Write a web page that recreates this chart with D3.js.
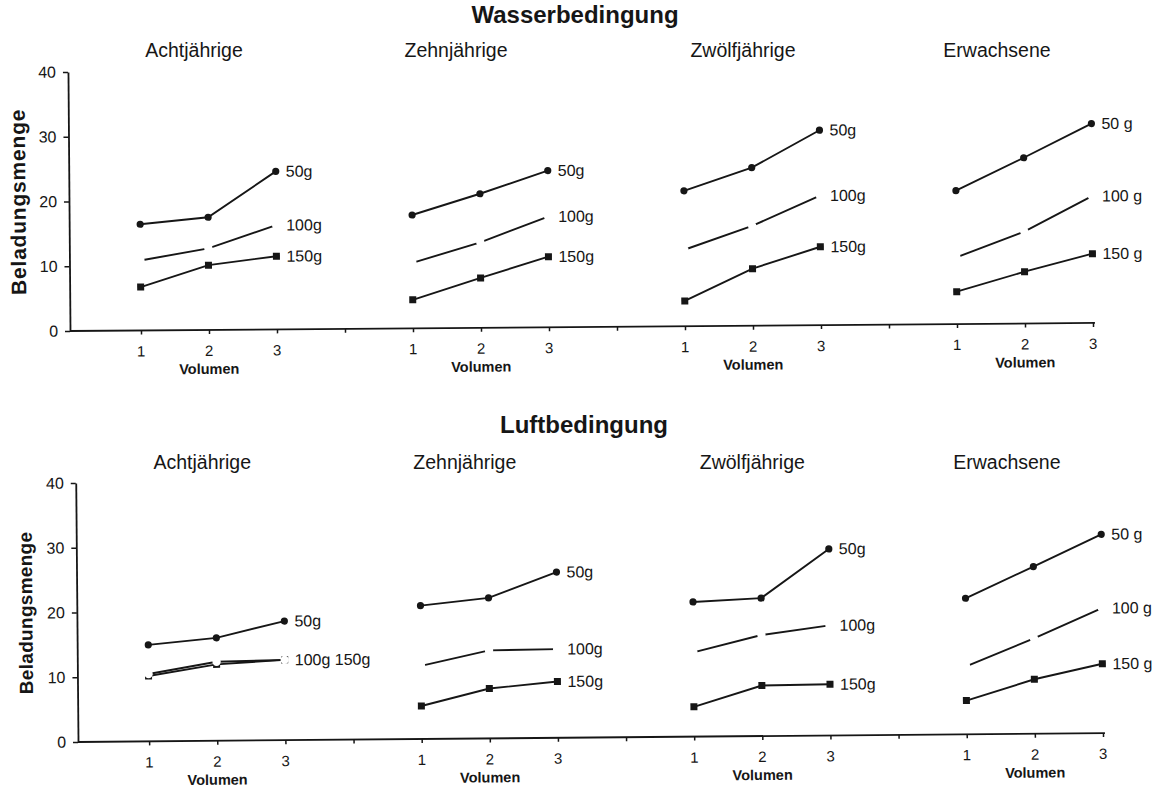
<!DOCTYPE html>
<html>
<head>
<meta charset="utf-8">
<script src="https://cdn.jsdelivr.net/npm/d3@7"></script>
<style>
  body { margin: 0; background: #fff; }
  svg { display: block; font-family: "Liberation Sans", Arial, sans-serif; }
</style>
</head>
<body>
<script>
// values: Beladungsmenge for Volumen 1..3, one row per age group
const ageGroups = ["Achtjährige", "Zehnjährige", "Zwölfjährige", "Erwachsene"];
const volumes = ["1", "2", "3"];
const yTicks = [0, 10, 20, 30, 40];

const wasser50g  = [[16.4, 17.4, 24.4], [17.5, 20.7, 24.2], [20.9, 24.4, 30.1], [20.6, 25.6, 30.8]];
const wasser100g = [[10.8, 12.6, 16.1], [10.1, 13.2, 17.1], [11.8, 15.4, 20.0], [10.3, 14.2, 19.6]];
const wasser150g = [[6.7, 10.0, 11.3], [4.4, 7.7, 10.9], [3.9, 8.8, 12.1], [5.0, 8.0, 10.7]];

const luft50g  = [[14.9, 15.9, 18.4], [20.6, 21.7, 25.6], [20.8, 21.3, 28.8], [21.0, 25.8, 30.7]];
const luft100g = [[10.4, 12.2, 12.4], [11.3, 13.6, 13.7], [13.0, 15.6, 17.0], [10.5, 14.7, 19.3]];
const luft150g = [[10.1, 11.8, 12.4], [5.1, 7.7, 8.7], [4.6, 7.8, 7.9], [5.2, 8.4, 10.7]];

const wasserLabels = [["50g", "100g", "150g"], ["50g", "100g", "150g"], ["50g", "100g", "150g"], ["50 g", "100 g", "150 g"]];
const luftLabels   = [["50g", "100g 150g", ""], ["50g", "100g", "150g"], ["50g", "100g", "150g"], ["50 g", "100 g", "150 g"]];

// the panel titles were not centred the same way in the original
const titleNudge = [-15, -25, -10, -28];

const width = 1165, height = 789;
const ink = "#161616";

const svg = d3.select("body").append("svg")
    .attr("width", width)
    .attr("height", height);

function drawCondition(opt) {
    let x0 = opt.x0, y0 = opt.y0;
    let x = d3.scaleLinear().domain([0, 15]).range([x0 + 3, opt.xEnd]);
    let y = d3.scaleLinear().domain([0, 40]).range([y0, y0 - 259]);

    // main title and age group titles (not tilted)
    svg.append("text")
        .attr("x", (x(0) + x(15)) / 2 - 8)
        .attr("y", opt.titleY)
        .attr("text-anchor", "middle")
        .attr("font-size", "24px")
        .attr("font-weight", "bold")
        .attr("fill", ink)
        .text(opt.title);

    svg.selectAll(null)
        .data(ageGroups)
        .enter().append("text")
        .attr("x", (d, i) => x(4 * i + 2) + titleNudge[i])
        .attr("y", opt.panelTitleY)
        .attr("text-anchor", "middle")
        .attr("font-size", "19.5px")
        .attr("fill", ink)
        .text(d => d);

    // the scan is slightly rotated, so the plot is drawn in a tilted group
    let g = svg.append("g")
        .attr("transform", "rotate(" + opt.angle + "," + x0 + "," + y0 + ")");

    let yAxis = g.append("g")
        .attr("transform", "translate(" + x0 + ",0)")
        .call(d3.axisLeft(y).tickValues(yTicks).tickSize(5).tickSizeOuter(0).tickPadding(7));
    yAxis.select(".domain").attr("stroke", ink).attr("stroke-width", 1.8);
    yAxis.selectAll(".tick line").attr("stroke", ink).attr("stroke-width", 1.5);
    yAxis.selectAll(".tick text")
        .attr("font-size", "16px")
        .attr("font-family", "Liberation Sans, Arial, sans-serif")
        .attr("fill", ink);

    let xAxis = g.append("g")
        .attr("transform", "translate(0," + y0 + ")")
        .call(d3.axisBottom(x).tickValues(d3.range(1, 16)).tickSize(4).tickSizeOuter(0).tickFormat(""));
    xAxis.select(".domain")
        .attr("d", "M" + x0 + ",0H" + (x(15) + 2))
        .attr("stroke", ink).attr("stroke-width", 1.8);
    xAxis.selectAll(".tick line").attr("stroke", ink).attr("stroke-width", 1.5);

    g.append("text")
        .attr("transform", "translate(" + (x0 - 51) + "," + y(20) + ") rotate(-90)")
        .attr("text-anchor", "middle")
        .attr("dominant-baseline", "central")
        .attr("font-size", opt.yLabelSize)
        .attr("letter-spacing", opt.yLabelSpacing)
        .attr("font-weight", "bold")
        .attr("fill", ink)
        .text("Beladungsmenge");

    ageGroups.forEach(function (name, k) {
        let panel = g.append("g").attr("class", "panel");
        let px = i => x(4 * k + i + 1);

        panel.selectAll(".vol")
            .data(volumes)
            .enter().append("text")
            .attr("class", "vol")
            .attr("x", (d, i) => px(i))
            .attr("y", y0 + 26)
            .attr("text-anchor", "middle")
            .attr("font-size", "15px")
            .attr("fill", ink)
            .text(d => d);

        panel.append("text")
            .attr("x", px(1))
            .attr("y", y0 + 44)
            .attr("text-anchor", "middle")
            .attr("font-size", "14.5px")
            .attr("font-weight", "bold")
            .attr("fill", ink)
            .text("Volumen");

        let line = d3.line().x((d, i) => px(i)).y(d => y(d));

        // 150g: squares
        panel.append("path")
            .datum(opt.s150[k])
            .attr("d", line)
            .attr("fill", "none")
            .attr("stroke", ink)
            .attr("stroke-width", 1.9);
        panel.selectAll(".sq")
            .data(opt.s150[k])
            .enter().append("rect")
            .attr("class", "sq")
            .attr("x", (d, i) => px(i) - 3.5)
            .attr("y", d => y(d) - 3.5)
            .attr("width", 7)
            .attr("height", 7)
            .attr("fill", ink);

        // 50g: dots
        panel.append("path")
            .datum(opt.s50[k])
            .attr("d", line)
            .attr("fill", "none")
            .attr("stroke", ink)
            .attr("stroke-width", 1.9);
        panel.selectAll(".dot")
            .data(opt.s50[k])
            .enter().append("circle")
            .attr("class", "dot")
            .attr("cx", (d, i) => px(i))
            .attr("cy", d => y(d))
            .attr("r", 3.6)
            .attr("fill", ink);

        // 100g: line with blank (white) markers, giving the gaps
        panel.append("path")
            .datum(opt.s100[k])
            .attr("d", line)
            .attr("fill", "none")
            .attr("stroke", ink)
            .attr("stroke-width", 1.9);
        panel.selectAll(".blank")
            .data(opt.s100[k])
            .enter().append("circle")
            .attr("class", "blank")
            .attr("cx", (d, i) => px(i))
            .attr("cy", d => y(d))
            .attr("r", 4.2)
            .attr("fill", "#fff");

        let ends = [opt.s50[k][2], opt.s100[k][2], opt.s150[k][2]];
        panel.selectAll(".lab")
            .data(opt.labels[k])
            .enter().append("text")
            .attr("class", "lab")
            .attr("x", px(2) + 10)
            .attr("y", (d, i) => y(ends[i]))
            .attr("dominant-baseline", "central")
            .attr("font-size", "16px")
            .attr("fill", ink)
            .text(d => d);
    });
}

drawCondition({
    title: "Wasserbedingung",
    titleY: 23,
    panelTitleY: 57,
    x0: 70, y0: 331, xEnd: 1093,
    angle: -0.45,
    yLabelSize: "21px", yLabelSpacing: "0.8px",
    s50: wasser50g, s100: wasser100g, s150: wasser150g,
    labels: wasserLabels
});

drawCondition({
    title: "Luftbedingung",
    titleY: 433,
    panelTitleY: 469,
    x0: 78, y0: 742, xEnd: 1103,
    angle: -0.5,
    yLabelSize: "19px", yLabelSpacing: "0.3px",
    s50: luft50g, s100: luft100g, s150: luft150g,
    labels: luftLabels
});
</script>
</body>
</html>
